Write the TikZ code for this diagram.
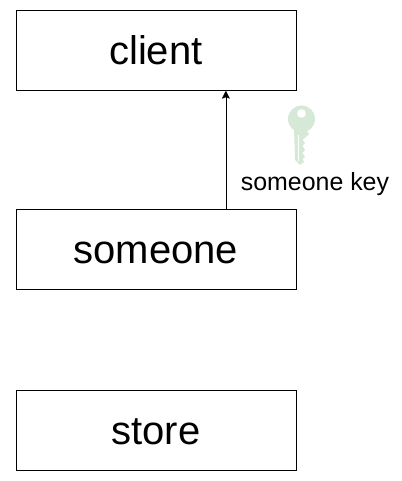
\documentclass[tikz,border=0pt]{standalone}
\usepackage{fontspec}
\setmainfont{Liberation Sans}
\usetikzlibrary{arrows.meta}
\definecolor{keygreen}{RGB}{214,232,214}
\tikzset{
  boxnode/.style={draw=black,line width=0.6pt,minimum width=280pt,minimum height=79.7pt,inner sep=0pt,anchor=north west,font=\fontsize{40}{46}\selectfont,text=black,text height=33pt,text depth=5pt},
  labelnode/.style={inner sep=0pt,font=\fontsize{24.9}{28}\selectfont,text=black,text height=20pt,text depth=3pt},
  conn/.style={draw=black,line width=0.6pt,-{Stealth[length=8pt,width=8pt,inset=1.5pt]}}
}
\begin{document}
\begin{tikzpicture}[x=1pt,y=-1pt]
\useasboundingbox (0,0) rectangle (401,481);
\node[boxnode] (client) at (15.6,10.4) {client};
\node[boxnode] (someone) at (15.6,209.4) {someone};
\node[boxnode] (store) at (15.6,390.4) {store};
\coordinate (armx) at (225.9,0);
\draw[conn] (someone.north -| armx) -- (client.south -| armx);
\node[labelnode] (keylabel) at (315,181.5) {someone key};
% key
\fill[keygreen,even odd rule] (301.5,119) circle (13.5) (301.5,113.5) circle (4.5);
\fill[keygreen] (294,128) -- (295,160) -- (300,165) -- (304,162) -- (302.5,159) -- (305,157) -- (302.5,153) -- (305,150) -- (302.5,146) -- (305,143) -- (302.5,140) -- (306,137) -- (309,134) -- (305,128) -- cycle;
\draw[white,line width=0.7pt] (298,135) -- (298,161);
\end{tikzpicture}
\end{document}
